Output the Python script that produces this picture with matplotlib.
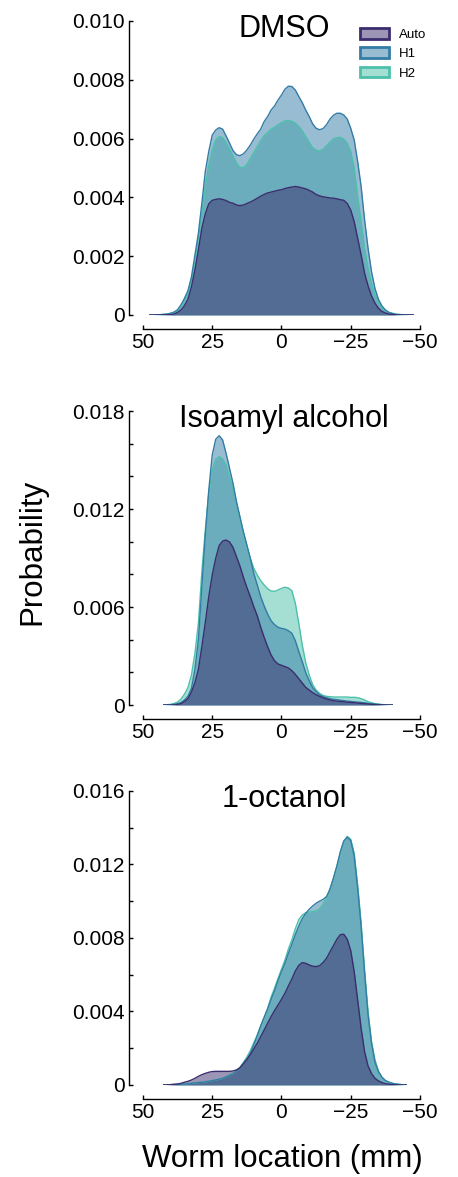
import matplotlib
matplotlib.use("Agg")
import matplotlib.pyplot as plt
from matplotlib.patches import Patch
from matplotlib.colors import to_rgba

# Densidades de localizacao dos vermes (mm), uma lista por condicao
groups = ['Auto', 'H1', 'H2']
colors = {'Auto': '#3b2d6e', 'H1': '#337ca6', 'H2': '#4cc0aa'}

location_mm = [47.5, 46.25, 45, 43.75, 42.5, 41.25, 40, 38.75, 37.5, 36.25, 35, 33.75, 32.5, 31.25,
               30, 28.75, 27.5, 26.25, 25, 23.75, 22.5, 21.25, 20, 18.75, 17.5, 16.25, 15, 13.75,
               12.5, 11.25, 10, 8.75, 7.5, 6.25, 5, 3.75, 2.5, 1.25, 0,
               -1.25, -2.5, -3.75, -5, -6.25, -7.5, -8.75, -10, -11.25, -12.5, -13.75, -15, -16.25,
               -17.5, -18.75, -20, -21.25, -22.5, -23.75, -25, -26.25, -27.5, -28.75, -30, -31.25,
               -32.5, -33.75, -35, -36.25, -37.5, -38.75, -40, -41.25, -42.5, -43.75, -45, -46.25,
               -47.5]

# DMSO: 47.5 ate -47.5 mm
dmso_x = location_mm
dmso_auto = [0, 0, 0, 0, 0.000002, 0.000006, 0.00001, 0.00003, 0.00009, 0.00017,
             0.00032, 0.00054, 0.00096, 0.00153, 0.00221, 0.00295, 0.00344, 0.00378, 0.0039, 0.00393,
             0.00395, 0.00393, 0.00389, 0.00383, 0.0038, 0.00374, 0.00372, 0.00374, 0.00379, 0.00384,
             0.0039, 0.00397, 0.00404, 0.0041, 0.00415, 0.00418, 0.00421, 0.00424, 0.00426, 0.0043,
             0.00433, 0.00435, 0.00437, 0.00435, 0.00432, 0.00429, 0.00424, 0.00418, 0.0041, 0.00405,
             0.00402, 0.004, 0.00398, 0.00397, 0.00395, 0.00392, 0.0039, 0.00379, 0.00357, 0.00317,
             0.00261, 0.00204, 0.00142, 0.00099, 0.00065, 0.0004, 0.00023, 0.00012, 0.00007, 0.00003,
             0.00002, 0.000006, 0, 0, 0, 0, 0]
dmso_h1 = [0, 0, 0.000006, 0.00001, 0.00002, 0.00003, 0.00006, 0.0001, 0.00018, 0.00035,
           0.00057, 0.00083, 0.0013, 0.00204, 0.00278, 0.0038, 0.00488, 0.00556, 0.00612, 0.00629,
           0.00637, 0.00632, 0.00609, 0.00584, 0.00559, 0.00545, 0.00542, 0.00548, 0.00561, 0.00578,
           0.00598, 0.00616, 0.00632, 0.00658, 0.00675, 0.00697, 0.00711, 0.00731, 0.00748, 0.00768,
           0.00778, 0.00777, 0.00765, 0.00743, 0.00722, 0.00697, 0.00675, 0.0065, 0.00635, 0.0063,
           0.00634, 0.00647, 0.00666, 0.00679, 0.00686, 0.00686, 0.0068, 0.00666, 0.00635, 0.00595,
           0.00522, 0.00437, 0.00323, 0.00227, 0.00147, 0.0009, 0.00053, 0.00031, 0.00017, 0.00009,
           0.000045, 0.00002, 0.00001, 0.000006, 0.000003, 0, 0]
dmso_h2 = [0, 0, 0.000006, 0.00001, 0.00002, 0.00003, 0.00005, 0.00008, 0.00015, 0.00028,
           0.00051, 0.00076, 0.00119, 0.00181, 0.00261, 0.00346, 0.00437, 0.0051, 0.00561, 0.00595,
           0.00607, 0.00603, 0.00586, 0.00565, 0.00541, 0.00516, 0.00502, 0.00501, 0.00512, 0.00533,
           0.00552, 0.00573, 0.00593, 0.0061, 0.00621, 0.00632, 0.00638, 0.00647, 0.00654, 0.0066,
           0.00661, 0.00659, 0.00652, 0.00641, 0.00626, 0.00607, 0.00587, 0.00569, 0.0056, 0.00558,
           0.00564, 0.00575, 0.00588, 0.00599, 0.00603, 0.00604, 0.00598, 0.00584, 0.00556, 0.00499,
           0.00402, 0.00317, 0.00227, 0.00159, 0.00108, 0.00068, 0.00045, 0.00026, 0.00016, 0.00009,
           0.00006, 0.00003, 0.00002, 0.00001, 0.000006, 0, 0]

# Isoamyl alcohol: 42.5 ate -40 mm
iso_x = location_mm[4:71]
iso_auto = [0, 0, 0, 0.00001, 0.00004, 0.00008, 0.00022, 0.00039, 0.0008, 0.00137,
            0.00218, 0.00357, 0.00506, 0.00663, 0.00796, 0.00898, 0.00976, 0.01004, 0.0101, 0.00998,
            0.00965, 0.00908, 0.00851, 0.00782, 0.0072, 0.00663, 0.00602, 0.00547, 0.00476, 0.00414,
            0.00357, 0.00306, 0.00271, 0.00251, 0.00243, 0.00235, 0.00227, 0.0021, 0.00188, 0.00161,
            0.00135, 0.00108, 0.00092, 0.00076, 0.00063, 0.00053, 0.00045, 0.00037, 0.00031, 0.00027,
            0.00024, 0.00022, 0.0002, 0.00017, 0.00016, 0.00014, 0.00012, 0.0001, 0.00008, 0.00006,
            0.00004, 0.00003, 0.00002, 0.00001, 0, 0, 0]
iso_h1 = [0, 0.00001, 0.00002, 0.00004, 0.00008, 0.00016, 0.00031, 0.00055, 0.00102, 0.0022,
          0.0040, 0.00725, 0.01041, 0.01316, 0.01531, 0.01627, 0.01649, 0.01623, 0.01541, 0.01449,
          0.01357, 0.01245, 0.01153, 0.01061, 0.0098, 0.00898, 0.00806, 0.00735, 0.00663, 0.00606,
          0.00557, 0.00516, 0.00492, 0.00476, 0.00469, 0.00465, 0.00455, 0.00439, 0.00394, 0.00327,
          0.00265, 0.00198, 0.00149, 0.00106, 0.00082, 0.00063, 0.00051, 0.00045, 0.00039, 0.00035,
          0.00033, 0.00029, 0.00027, 0.00024, 0.00022, 0.0002, 0.00018, 0.00016, 0.00014, 0.0001,
          0.00008, 0.00006, 0.00004, 0.00002, 0.00001, 0, 0]
iso_h2 = [0.000004, 0.00002, 0.00004, 0.0001, 0.00018, 0.00037, 0.00067, 0.00108, 0.00184, 0.00316,
          0.005, 0.00816, 0.01072, 0.01296, 0.01439, 0.01504, 0.01521, 0.01506, 0.0147, 0.01394,
          0.01327, 0.01235, 0.01143, 0.01051, 0.00969, 0.00898, 0.00837, 0.00796, 0.00761, 0.00735,
          0.00712, 0.00698, 0.00696, 0.00704, 0.00714, 0.00721, 0.00716, 0.007, 0.00623, 0.005,
          0.00367, 0.00259, 0.00184, 0.00125, 0.00092, 0.00071, 0.00059, 0.00053, 0.00051, 0.00049,
          0.00049, 0.00049, 0.00049, 0.00049, 0.00047, 0.00047, 0.00045, 0.00039, 0.00031, 0.0002,
          0.00014, 0.00008, 0.00005, 0.00003, 0.00002, 0.00001, 0]

# 1-octanol: 42.5 ate -45 mm
oct_x = location_mm[4:75]
oct_auto = [0, 0.00001, 0.00002, 0.00004, 0.00005, 0.00009, 0.00015, 0.0002, 0.00027, 0.00036,
            0.00047, 0.00056, 0.00063, 0.00069, 0.00073, 0.00074, 0.00074, 0.00074, 0.00074, 0.00074,
            0.00076, 0.00082, 0.00093, 0.00114, 0.00138, 0.00165, 0.00196, 0.00227, 0.00263, 0.00299,
            0.00336, 0.00372, 0.00405, 0.00435, 0.00466, 0.00499, 0.00539, 0.00577, 0.0062, 0.00651,
            0.00666, 0.00662, 0.00653, 0.00646, 0.00644, 0.00649, 0.00666, 0.00689, 0.00724, 0.00758,
            0.00793, 0.00818, 0.0082, 0.00793, 0.00731, 0.00617, 0.00463, 0.00308, 0.00181, 0.00103,
            0.00062, 0.00036, 0.00022, 0.00013, 0.00007, 0.00004, 0.00002, 0.00001, 0, 0, 0]
oct_h1 = [0, 0, 0.00001, 0.00002, 0.00003, 0.00004, 0.00005, 0.00007, 0.00009, 0.00011,
          0.00013, 0.00015, 0.00017, 0.0002, 0.00024, 0.00027, 0.00031, 0.00036, 0.00044, 0.00053,
          0.00062, 0.00076, 0.00093, 0.00118, 0.00141, 0.00172, 0.00218, 0.00268, 0.00321, 0.00368,
          0.00414, 0.00466, 0.00513, 0.00568, 0.00617, 0.00662, 0.00717, 0.00766, 0.00818, 0.00865,
          0.00905, 0.00934, 0.00956, 0.00974, 0.00989, 0.01, 0.0101, 0.01025, 0.01065, 0.01125,
          0.01192, 0.0127, 0.01328, 0.01348, 0.0133, 0.01246, 0.0107, 0.00862, 0.00608, 0.00381,
          0.00227, 0.00123, 0.00073, 0.00042, 0.00024, 0.00015, 0.00009, 0.00005, 0.00003, 0.00001, 0]
oct_h2 = [0, 0, 0.00001, 0.00002, 0.00003, 0.00004, 0.00005, 0.00007, 0.00009, 0.00011,
          0.00013, 0.00015, 0.00017, 0.0002, 0.00024, 0.00027, 0.00031, 0.00036, 0.00044, 0.00053,
          0.00062, 0.00076, 0.00096, 0.00123, 0.00152, 0.00187, 0.0023, 0.00272, 0.00321, 0.00368,
          0.00417, 0.00478, 0.00527, 0.0058, 0.0063, 0.0068, 0.0074, 0.0079, 0.0085, 0.009,
          0.00925, 0.00937, 0.00941, 0.00943, 0.00947, 0.00958, 0.00985, 0.01016, 0.01065, 0.01125,
          0.01188, 0.01261, 0.01324, 0.01353, 0.01337, 0.01261, 0.01088, 0.0088, 0.00626, 0.00399,
          0.00236, 0.00136, 0.00076, 0.00042, 0.00024, 0.00015, 0.00009, 0.00005, 0.00003, 0.00001, 0]

titles = ['DMSO', 'Isoamyl alcohol', '1-octanol']
x_ticks = [50, 25, 0, -25, -50]
y_ticks = [[0, 0.002, 0.004, 0.006, 0.008, 0.010],
           [0, 0.006, 0.012, 0.018],
           [0, 0.004, 0.008, 0.012, 0.016]]
y_ticklabels = [['0', '0.002', '0.004', '0.006', '0.008', '0.010'],
                ['0', '0.006', '0.012', '0.018'],
                ['0', '0.004', '0.008', '0.012', '0.016']]
y_minor = [[], [0.002, 0.004, 0.008, 0.010, 0.014, 0.016],
           [0.002, 0.006, 0.010, 0.014]]


def main():
    plt.rcParams['font.family'] = ['Liberation Sans', 'DejaVu Sans']

    fig = plt.figure(figsize=(4.58, 11.77), dpi=100)

    panels = [
        (dmso_x, {'Auto': dmso_auto, 'H1': dmso_h1, 'H2': dmso_h2}),
        (iso_x, {'Auto': iso_auto, 'H1': iso_h1, 'H2': iso_h2}),
        (oct_x, {'Auto': oct_auto, 'H1': oct_h1, 'H2': oct_h2}),
    ]
    bottoms = [0.7324, 0.4010, 0.0782]

    for i, (xs, dens) in enumerate(panels):
        ax = fig.add_axes([0.3122, bottoms[i], 0.6048, 0.2498])

        # desenha H2, H1 e por ultimo Auto por cima
        for g in ['H2', 'H1', 'Auto']:
            ax.fill_between(xs, 0, dens[g], color=colors[g], alpha=0.5, lw=0)
            ax.plot(xs, dens[g], color=colors[g], lw=1)

        ax.set_xlim(50, -50)
        ax.set_ylim(0, y_ticks[i][-1])
        ax.set_xticks(x_ticks)
        ax.set_yticks(y_ticks[i])
        ax.set_yticklabels(y_ticklabels[i])
        ax.set_yticks(y_minor[i], minor=True)

        for s in ['top', 'right']:
            ax.spines[s].set_visible(False)
        for s in ['left', 'bottom']:
            ax.spines[s].set_position(('outward', 10))
            ax.spines[s].set_linewidth(1.0)

        ax.tick_params(which='both', direction='in', length=3, width=1.0, labelsize=15, pad=3)

        ax.text(0.51, 0.9456, titles[i], transform=ax.transAxes, ha='center', va='baseline',
                fontsize=22)

        if i == 0:
            handles = [Patch(facecolor=to_rgba(colors[g], 0.5), edgecolor=colors[g], lw=2, label=g)
                       for g in groups]
            fig.legend(handles=handles, loc='upper left', bbox_to_anchor=(0.786, 0.9762),
                       frameon=False, fontsize=9.5, handlelength=2.2, handleheight=0.85,
                       handletextpad=0.75, labelspacing=0.5, borderpad=0, borderaxespad=0)

    fig.text(0.070, 0.531, 'Probability', rotation=90, ha='center', va='center', fontsize=22.5)
    fig.text(0.617, 0.0085, 'Worm location (mm)', ha='center', va='baseline', fontsize=22.5)

    fig.savefig('out.png', dpi=100)


if __name__ == "__main__":
    main()
